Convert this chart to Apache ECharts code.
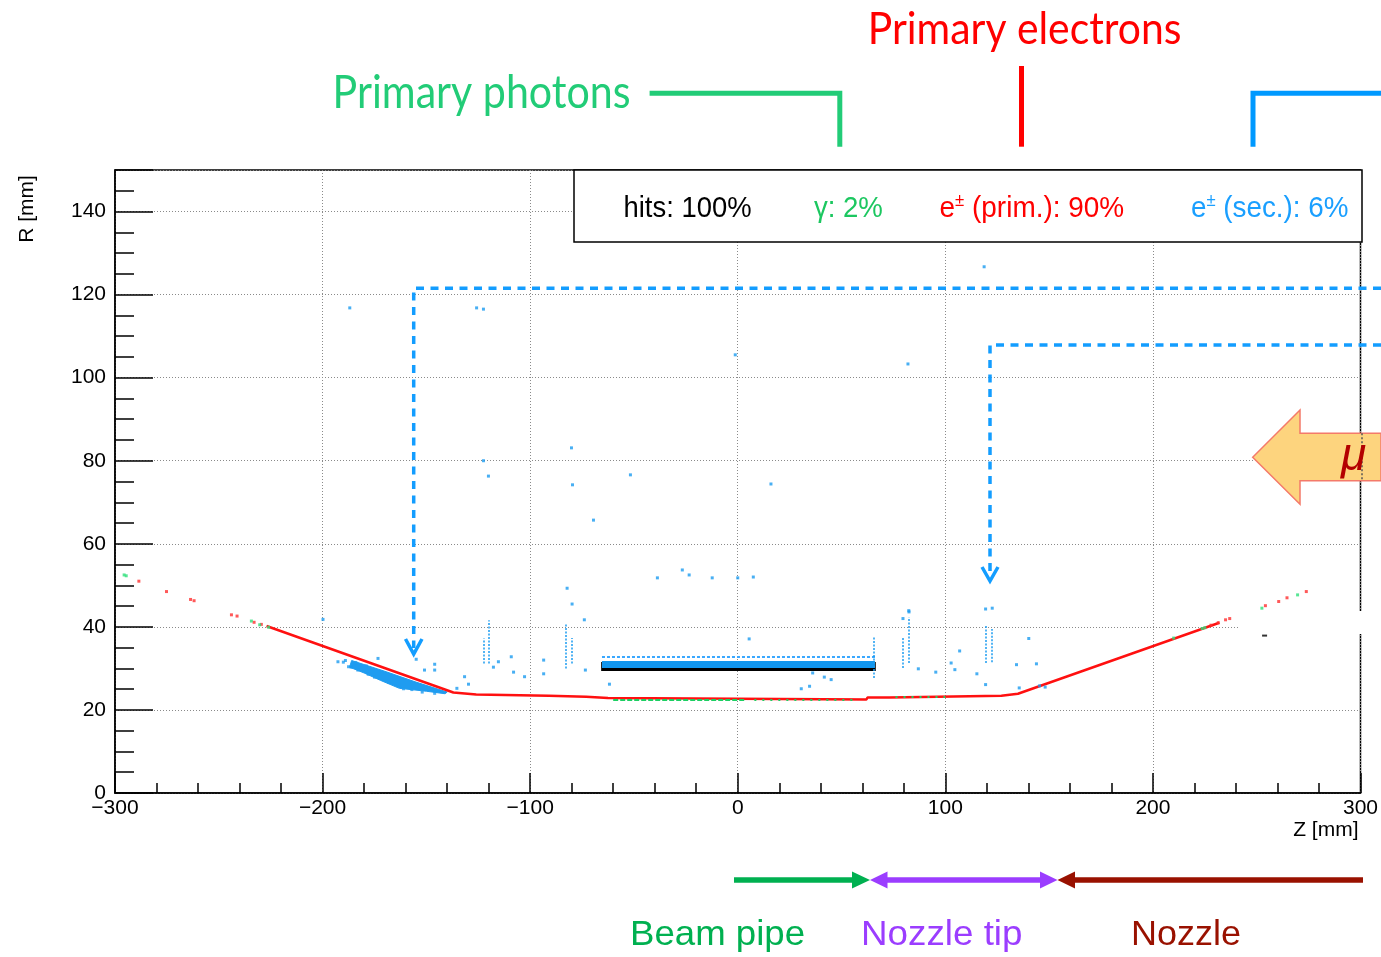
<!DOCTYPE html>
<html><head><meta charset="utf-8">
<script src="https://cdn.jsdelivr.net/npm/echarts@6/dist/echarts.min.js"></script>
<style>html,body{margin:0;padding:0;background:#fff}#c{width:1381px;height:957px}</style>
</head><body><div id="c"></div>
<script>
// ---------------- data (Z [mm], R [mm]) ----------------
const zAxisRange = [-300, 300];
const rAxisRange = [0, 150];
const zTickStep = 100;
const rTickStep = 20;

// primary e± hitting the wall (dense trace along the nozzle / beam pipe contour)
const wallElectronsLine = [[-227,40.2],[-137,24.2],[-126,23.7],[-125.5,23.4],[-91,23.4],[-90.5,23.2],[-73,23.2],[-72.5,22.9],[-62.5,22.9],[-62,22.5],[62,22.5],[62.5,23.0],[73,23.0],[73.5,23.4],[127,23.4],[127.5,23.8],[135,23.9],[232,41.0]];
// sparse primary e± hits
const electronDots = [[-288.5,51.0],[-275.2,48.5],[-263.6,46.6],[-261.9,46.3],[-243.9,42.9],[-241.2,42.6],[-233,41.1],[-229.5,40.6],[228,40.4],[231.5,41.0],[235,41.7],[237,42.0],[254.2,45.1],[260.6,46.1],[264.6,47.0],[273.9,48.5]];
// primary photons
const photonDots = [[-295.6,52.5],[-294.6,52.3],[-234.3,41.4],[-230.3,40.5],[-226,39.9],[210,37.3],[223.7,39.6],[225,39.8],[252.5,44.5],[269.7,47.7]];
const photonWallSegments = [[[-60,22.35],[4,22.35]],[[8,22.35],[58,22.35]],[[76,23.25],[100,23.25]]];
// secondary e±: dense cloud just inside the nozzle cone (outline: upper edge, then lower edge back)
const secondaryCloud = [[-186,31.9],[-170,29.3],[-155,26.7],[-140,24.3],[-141,23.9],[-150,24.5],[-163,25.2],[-172,27.1],[-180,28.9],[-187,30.3]];
const cloudSpeckles = [[-190,31.5],[-187.5,30.4],[-183,29.6],[-178,28.6],[-175,27.9],[-168,26.6],[-161,25.1],[-157,24.9],[-152,24.3],[-146,24.0],[-184,31.4],[-179,30.6]];
const secondaryStreaks = [[[-122.5,31.2],[-122.5,37.2]],[[-120.1,31.2],[-120.1,41.6]],[[-82.7,30.0],[-82.7,40.9]],[[-79.8,31.2],[-79.8,37.3]],[[79.6,30.1],[79.6,37.4]],[[82.4,31.3],[82.4,42.3]],[[119.4,31.3],[119.4,40.2]],[[122.2,31.5],[122.2,39.5]],[[65.7,27.7],[65.7,37.6]]];
const secondaryDots = [[-186.9,116.8],[-125.8,116.8],[-122.5,116.5],[118.7,126.7],[-1.2,105.5],[82,103.3],[-80.1,83.1],[-122.5,80],[-120.1,76.3],[-51.7,76.6],[-79.6,74.2],[16,74.4],[-69.5,65.7],[-26.7,53.7],[-23.4,52.5],[-12.3,51.8],[-38.7,51.8],[0,51.8],[7.5,52],[-82.2,49.3],[-79.8,45.5],[82.5,43.6],[-199.8,41.8],[-154.9,32.2],[-150.9,29.6],[-146,31],[-146,29.6],[-131.6,28],[-129.7,26.2],[-135.3,25.2],[-115.3,31.6],[-117.7,30.3],[-109.1,32.8],[-108,29.1],[-102.7,28],[-93.5,32],[-93.5,28.7],[-73.9,41.7],[-73.4,29.6],[-61.8,26.2],[5.5,37.1],[36.1,28.9],[41.7,27.9],[45,27.3],[30.6,25.1],[34.6,25.7],[87,29.9],[95.4,29.1],[102.8,31.3],[104.6,29.7],[106.9,34.2],[115.2,28.7],[119.4,26.1],[134.3,30.9],[140.2,37.2],[143.9,31.1],[135.6,25.3],[145.4,25.8],[148.1,25.5],[119.4,44.3],[122.6,44.5],[82.4,43.9],[79.6,42],[-192.6,31.6],[-186.2,30.3],[-189,31.9],[-173.3,32.4]];
// beam-pipe band (black base, blue hits, sparse blue row)
const pipeBandBlack = [[-65.8,30.55],[66.5,30.55]];
const pipeBandBlue = [[-65.4,30.95],[66.1,30.95]];
const pipeBandRow = [[-65.4,32.9],[66.1,32.9]];
const blackMarks = [[253.8,37.9]];

// texts
const legendTexts = ['hits: 100%', '\u03b3: 2%', ' (prim.): 90%', ' (sec.): 6%'];
const annotTexts = ['Primary photons', 'Primary electrons'];
const regionTexts = ['Beam pipe', 'Nozzle tip', 'Nozzle'];

// ---------------- helpers ----------------
const mctx = document.createElement('canvas').getContext('2d');
function tw(str, font){ mctx.font = font; return mctx.measureText(str).width; }
function fitText(str, size, family, left, midY, targetW, color, pre){
  const font = (pre ? pre + ' ' : '') + size + 'px "' + family + '"';
  const w = tw(str, font);
  return {type:'text', x:left, y:midY, scaleX: targetW / w, z:100,
    style:{text:str, font:font, fill:color, align:'left', verticalAlign:'middle', textAlign:'left', textVerticalAlign:'middle'}};
}
function supText(rest, left, midY, targetW, color){
  const f1 = '30px "Liberation Sans"', f2 = '18px "Liberation Sans"';
  const w1 = tw('e', f1), w2 = tw('\u00b1', f2), w3 = tw(rest, f1);
  const s = targetW / (w1 + w2 + w3);
  const st = (t, f) => ({text:t, font:f, fill:color, align:'left', verticalAlign:'middle', textAlign:'left', textVerticalAlign:'middle'});
  return {type:'group', x:left, y:midY, scaleX:s, z:100, children:[
    {type:'text', x:0, y:0, z:100, style:st('e', f1)},
    {type:'text', x:w1, y:-7.5, z:100, style:st('\u00b1', f2)},
    {type:'text', x:w1 + w2, y:0, z:100, style:st(rest, f1)}
  ]};
}
function poly(points, color, width, dash){
  return {type:'polyline', z:100, shape:{points:points}, style:{stroke:color, lineWidth:width, fill:null, lineDash:dash || null, lineJoin:'miter', lineCap:'butt'}};
}
function tri(points, color){
  return {type:'polygon', z:100, shape:{points:points}, style:{fill:color, stroke:null}};
}

const graphics = [
  // legend box
  {type:'rect', z:99, shape:{x:574, y:170, width:788, height:72}, style:{fill:'#fff', stroke:'#000', lineWidth:1.5}},
  fitText(legendTexts[0], 30, 'Liberation Sans', 623.5, 208.3, 128, '#000'),
  fitText(legendTexts[1], 30, 'Liberation Sans', 813.9, 208.3, 69, '#1cc760'),
  supText(legendTexts[2], 939.5, 208.3, 184.7, '#ff0000'),
  supText(legendTexts[3], 1191, 208.3, 157.4, '#1a9fff'),
  // top annotations
  fitText(annotTexts[0], 46, 'Lato', 332.6, 93.5, 298, '#22cc77'),
  fitText(annotTexts[1], 44, 'Lato', 867.8, 30.1, 313.7, '#ff0000'),
  poly([[649.6,93.3],[839.8,93.3],[839.8,146.7]], '#22cc77', 5),
  poly([[1021.5,66],[1021.5,146.7]], '#ff0000', 5),
  poly([[1253,146.7],[1253,93.3],[1381,93.3]], '#0099ff', 5),
  // dashed pointers
  poly([[1381,288.3],[413.7,288.3],[413.7,648]], '#139dff', 3.5, [8,6.5]),
  poly([[405.5,639],[413.7,654],[422,639]], '#139dff', 3.5),
  poly([[1381,345],[990,345],[990,576]], '#139dff', 3.5, [8,6.5]),
  poly([[982,567],[990,581],[998,567]], '#139dff', 3.5),
  // muon arrow
  {type:'polygon', z:100, shape:{points:[[1252.7,457.3],[1300,410],[1300,433.3],[1381,433.3],[1381,480.7],[1300,480.7],[1300,504.3]]}, style:{fill:'#fdd47e', stroke:'#f47a6a', lineWidth:1.5}},
  poly([[1362,433.3],[1362,480.7]], '#555', 1.5, [2,2]),
  {type:'text', x:1353.5, y:457.5, z:101, style:{text:'\u03bc', font:'italic 46px "Liberation Sans"', fill:'#b30000', align:'center', verticalAlign:'middle', textAlign:'center', textVerticalAlign:'middle'}},
  // white patch
  {type:'rect', z:99, shape:{x:1238, y:611, width:128, height:23}, style:{fill:'#fff', stroke:null}},
  // bottom region arrows
  poly([[734,880],[853,880]], '#00b050', 5.5),
  tri([[852,871.5],[870,880],[852,888.5]], '#00b050'),
  poly([[887,880],[1041,880]], '#9b3dff', 5.5),
  tri([[887.5,871.5],[870,880],[887.5,888.5]], '#9b3dff'),
  tri([[1040,871.5],[1057.5,880],[1040,888.5]], '#9b3dff'),
  poly([[1074,880],[1363,880]], '#991100', 5.5),
  tri([[1075,871.5],[1057.5,880],[1075,888.5]], '#991100'),
  fitText(regionTexts[0], 35, 'Liberation Sans', 630, 935.5, 175, '#00b050'),
  fitText(regionTexts[1], 35, 'Liberation Sans', 861, 935.5, 161.5, '#9b3dff'),
  fitText(regionTexts[2], 35, 'Liberation Sans', 1131, 935.5, 110, '#991100'),
  // R axis title
  {type:'text', x:27, y:209, rotation:Math.PI/2, z:100, style:{text:'R [mm]', font:'21px "Liberation Sans"', fill:'#000', align:'center', verticalAlign:'middle', textAlign:'center', textVerticalAlign:'middle'}}
];

const axisFont = 'Liberation Sans';
const option = {
  animation:false,
  backgroundColor:'#fff',
  grid:{left:115, top:170, right:19, bottom:164, show:true, borderColor:'#000', borderWidth:1.5, backgroundColor:'transparent'},
  xAxis:{
    type:'value', min:zAxisRange[0], max:zAxisRange[1], interval:zTickStep,
    axisLine:{show:true, onZero:false, lineStyle:{color:'#000', width:1.5}},
    axisTick:{show:true, inside:true, length:20, lineStyle:{color:'#000', width:1.5}},
    minorTick:{show:true, splitNumber:5, length:10, lineStyle:{color:'#000', width:1.5}},
    splitLine:{show:true, lineStyle:{color:'#8a8a8a', type:[1,2], width:1}},
    axisLabel:{color:'#000', fontSize:21, fontFamily:axisFont, margin:5, showMinLabel:true, showMaxLabel:true,
      formatter: v => String(v).replace('-', '\u2212')},
    name:'Z [mm]', nameLocation:'end', nameGap:-2,
    nameTextStyle:{color:'#000', fontSize:21, fontFamily:axisFont, align:'right', verticalAlign:'top', padding:[27,0,0,0]}
  },
  yAxis:{
    type:'value', min:rAxisRange[0], max:rAxisRange[1], interval:rTickStep,
    axisLine:{show:true, onZero:false, lineStyle:{color:'#000', width:1.5}},
    axisTick:{show:true, inside:true, length:38, lineStyle:{color:'#000', width:1.5}},
    minorTick:{show:true, splitNumber:4, length:19, lineStyle:{color:'#000', width:1.5}},
    splitLine:{show:true, lineStyle:{color:'#8a8a8a', type:[1,2], width:1}},
    axisLabel:{color:'#000', fontSize:21, fontFamily:axisFont, margin:9, showMinLabel:true,
      formatter: v => (v === rAxisRange[1] ? '' : String(v))}
  },
  series:[
    {type:'lines', coordinateSystem:'cartesian2d', silent:true, z:3,
      data:[{coords:pipeBandBlack}], lineStyle:{color:'#000', width:9, opacity:1}},
    {type:'lines', coordinateSystem:'cartesian2d', silent:true, z:4,
      data:[{coords:pipeBandBlue}], lineStyle:{color:'#1296ee', width:7, opacity:1}},
    {type:'lines', coordinateSystem:'cartesian2d', silent:true, z:4,
      data:[{coords:pipeBandRow}], lineStyle:{color:'#3aa8ff', width:2, type:[3,2], opacity:1}},
    {type:'custom', data:secondaryCloud, silent:true, z:3,
      renderItem:(params, api) => {
        if (params.dataIndex !== 0) return null;
        return {type:'polygon', shape:{points:secondaryCloud.map(p => api.coord(p))},
          style:{fill:'#1f9cf0', stroke:'#1f9cf0', lineWidth:1}};
      }},
    {type:'scatter', data:cloudSpeckles, symbol:'rect', symbolSize:3, silent:true, z:3,
      itemStyle:{color:'#1f9cf0'}},
    {type:'line', data:wallElectronsLine, symbol:'none', silent:true, z:5,
      lineStyle:{color:'#ff1010', width:2.5}},
    {type:'lines', coordinateSystem:'cartesian2d', silent:true, z:6,
      data:photonWallSegments.map((c, i) => ({coords:c, lineStyle:{type: i === 0 ? [5,2] : [2,6]}})),
      lineStyle:{color:'#1ccf62', width:2, opacity:1}},
    {type:'lines', coordinateSystem:'cartesian2d', silent:true, z:6,
      data:secondaryStreaks.map(c => ({coords:c})),
      lineStyle:{color:'#1a9bf0', width:1.5, type:[2,1.5], opacity:1}},
    {type:'scatter', data:electronDots, symbol:'rect', symbolSize:3, silent:true, z:6,
      itemStyle:{color:'#ff3030'}},
    {type:'scatter', data:secondaryDots, symbol:'rect', symbolSize:3, silent:true, z:6,
      itemStyle:{color:'#1a9bf0'}},
    {type:'scatter', data:photonDots, symbol:'rect', symbolSize:3, silent:true, z:7,
      itemStyle:{color:'#2ee07a'}},
    {type:'scatter', data:blackMarks, symbol:'rect', symbolSize:[5,2], silent:true, z:7,
      itemStyle:{color:'#000'}}
  ],
  graphic:{elements:graphics}
};
const chart = echarts.init(document.getElementById('c'));
chart.setOption(option);
</script></body></html>
